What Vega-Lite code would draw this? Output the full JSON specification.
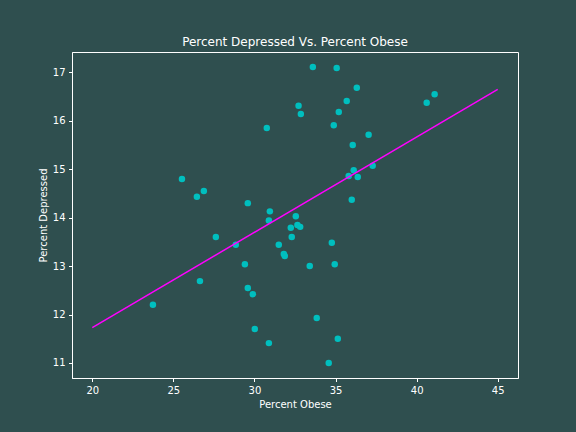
{
  "$schema": "https://vega.github.io/schema/vega-lite/v6.json",
  "width": 446,
  "height": 326,
  "autosize": {"type": "none"},
  "padding": {"left": 72, "top": 52, "right": 58, "bottom": 54},
  "background": "#2F4F4F",
  "title": {"text": "Percent Depressed Vs. Percent Obese", "color": "white", "font": "DejaVu Sans", "fontSize": 12, "fontWeight": "normal", "offset": 3, "anchor": "middle"},
  "config": {
    "view": {"stroke": "white", "strokeWidth": 1},
    "axis": {
      "grid": false,
      "domainColor": "white",
      "tickColor": "white",
      "labelColor": "white",
      "titleColor": "white",
      "labelFont": "DejaVu Sans",
      "titleFont": "DejaVu Sans",
      "labelFontSize": 10,
      "titleFontSize": 10,
      "titleFontWeight": "normal",
      "tickSize": 3.5,
      "labelPadding": 3.5,
      "titlePadding": 4
    }
  },
  "layer": [
    {
      "data": {"values": [
        {"obese": 32.72, "dep": 16.31},
        {"obese": 32.86, "dep": 16.14},
        {"obese": 30.76, "dep": 15.85},
        {"obese": 25.53, "dep": 14.80},
        {"obese": 26.88, "dep": 14.55},
        {"obese": 26.45, "dep": 14.43},
        {"obese": 29.59, "dep": 14.30},
        {"obese": 30.95, "dep": 14.13},
        {"obese": 32.55, "dep": 14.03},
        {"obese": 30.89, "dep": 13.94},
        {"obese": 33.60, "dep": 17.11},
        {"obese": 35.07, "dep": 17.09},
        {"obese": 36.31, "dep": 16.68},
        {"obese": 35.69, "dep": 16.41},
        {"obese": 35.20, "dep": 16.18},
        {"obese": 34.89, "dep": 15.91},
        {"obese": 41.11, "dep": 16.55},
        {"obese": 40.62, "dep": 16.37},
        {"obese": 37.04, "dep": 15.71},
        {"obese": 36.06, "dep": 15.50},
        {"obese": 37.29, "dep": 15.07},
        {"obese": 36.12, "dep": 14.98},
        {"obese": 35.81, "dep": 14.86},
        {"obese": 36.37, "dep": 14.84},
        {"obese": 36.00, "dep": 14.37},
        {"obese": 32.24, "dep": 13.79},
        {"obese": 32.65, "dep": 13.85},
        {"obese": 32.82, "dep": 13.81},
        {"obese": 32.30, "dep": 13.60},
        {"obese": 27.62, "dep": 13.60},
        {"obese": 28.85, "dep": 13.44},
        {"obese": 31.50, "dep": 13.44},
        {"obese": 31.81, "dep": 13.25},
        {"obese": 31.87, "dep": 13.21},
        {"obese": 29.41, "dep": 13.04},
        {"obese": 26.64, "dep": 12.69},
        {"obese": 29.59, "dep": 12.55},
        {"obese": 29.90, "dep": 12.42},
        {"obese": 23.74, "dep": 12.20},
        {"obese": 30.02, "dep": 11.70},
        {"obese": 30.89, "dep": 11.41},
        {"obese": 34.77, "dep": 13.48},
        {"obese": 34.95, "dep": 13.04},
        {"obese": 33.41, "dep": 13.00},
        {"obese": 33.84, "dep": 11.93},
        {"obese": 35.14, "dep": 11.50},
        {"obese": 34.58, "dep": 11.00}
      ]},
      "mark": {"type": "circle", "size": 42, "color": "#00BFBF", "opacity": 1},
      "encoding": {
        "x": {"field": "obese", "type": "quantitative", "scale": {"domain": [18.75, 46.25], "nice": false, "zero": false}, "axis": {"values": [20, 25, 30, 35, 40, 45], "title": "Percent Obese"}},
        "y": {"field": "dep", "type": "quantitative", "scale": {"domain": [10.69, 17.42], "nice": false, "zero": false}, "axis": {"values": [11, 12, 13, 14, 15, 16, 17], "title": "Percent Depressed"}}
      }
    },
    {
      "data": {"values": [
        {"obese": 20, "dep": 11.73},
        {"obese": 45, "dep": 16.65}
      ]},
      "mark": {"type": "line", "color": "#FF00FF", "strokeWidth": 1.5},
      "encoding": {
        "x": {"field": "obese", "type": "quantitative"},
        "y": {"field": "dep", "type": "quantitative"}
      }
    }
  ]
}
